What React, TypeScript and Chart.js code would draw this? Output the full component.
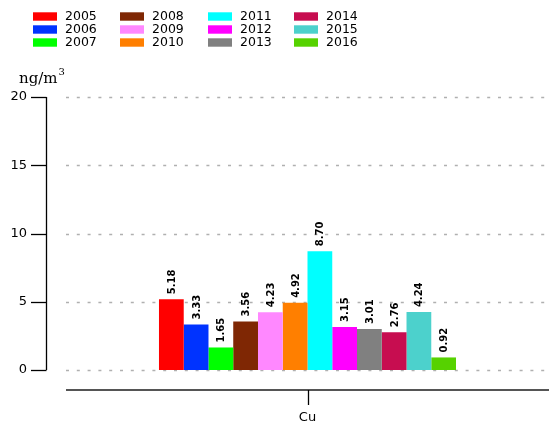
import React, { useEffect, useRef } from "react";
import { Chart, registerables } from "chart.js";

Chart.register(...registerables);

const categories = ["Cu"];
const years = ["2005", "2006", "2007", "2008", "2009", "2010", "2011", "2012", "2013", "2014", "2015", "2016"];
const values = [5.18, 3.33, 1.65, 3.56, 4.23, 4.92, 8.7, 3.15, 3.01, 2.76, 4.24, 0.92];
const colors = ["#ff0000", "#0033ff", "#00ff00", "#7f2704", "#ff88ff", "#ff7f00", "#00ffff", "#ff00ff", "#808080", "#c70d50", "#4cd1cc", "#56d200"];
const yTicks = [0, 5, 10, 15, 20];
const yLabel = "ng/m";
const yLabelSup = "3";

const SANS = "'DejaVu Sans', sans-serif";

const customPlugin = {
  id: "custom",
  beforeDatasetsDraw(chart: any) {
    const ctx = chart.ctx;
    const y = chart.scales.y;
    const area = chart.chartArea;
    ctx.save();
    ctx.strokeStyle = "#b0b0b0";
    ctx.lineWidth = 1.3;
    ctx.setLineDash([3, 7.8]);
    for (const t of yTicks) {
      const py = Math.round(y.getPixelForValue(t)) + 0.5;
      ctx.beginPath();
      ctx.moveTo(area.left, py);
      ctx.lineTo(area.right, py);
      ctx.stroke();
    }
    ctx.restore();
  },
  afterDatasetsDraw(chart: any) {
    const ctx = chart.ctx;
    ctx.save();
    ctx.fillStyle = "#000";
    ctx.font = `bold 10px ${SANS}`;
    ctx.textAlign = "left";
    ctx.textBaseline = "middle";
    chart.data.datasets.forEach((ds: any, i: number) => {
      const meta = chart.getDatasetMeta(i);
      const el = meta.data[0];
      if (!el) return;
      ctx.save();
      ctx.translate(el.x + 1, el.y - 5);
      ctx.rotate(-Math.PI / 2);
      ctx.fillText(values[i].toFixed(2), 0, 0);
      ctx.restore();
    });
    ctx.restore();
  },
  afterDraw(chart: any) {
    const ctx = chart.ctx;
    const y = chart.scales.y;
    const x = chart.scales.x;
    const area = chart.chartArea;
    ctx.save();
    // y spine
    const sx = 46.5;
    ctx.strokeStyle = "#000";
    ctx.lineWidth = 1.3;
    ctx.beginPath();
    ctx.moveTo(sx, y.getPixelForValue(20));
    ctx.lineTo(sx, y.getPixelForValue(0));
    ctx.stroke();
    for (const t of yTicks) {
      const py = Math.round(y.getPixelForValue(t)) + 0.5;
      ctx.beginPath();
      ctx.moveTo(31, py);
      ctx.lineTo(sx, py);
      ctx.stroke();
    }
    // x spine
    ctx.strokeStyle = "#555";
    ctx.lineWidth = 1.8;
    ctx.beginPath();
    ctx.moveTo(area.left, 390);
    ctx.lineTo(area.right, 390);
    ctx.stroke();
    ctx.strokeStyle = "#000";
    ctx.lineWidth = 1.3;
    const tx = Math.round(x.getPixelForValue(0)) + 0.5;
    ctx.beginPath();
    ctx.moveTo(tx, 390);
    ctx.lineTo(tx, 405);
    ctx.stroke();
    // y label
    ctx.fillStyle = "#000";
    ctx.textAlign = "left";
    ctx.textBaseline = "alphabetic";
    ctx.font = "15px 'DejaVu Serif', serif";
    ctx.fillText(yLabel, 19, 83);
    const w = ctx.measureText(yLabel).width;
    ctx.font = "10px 'DejaVu Serif', serif";
    ctx.fillText(yLabelSup, 19 + w + 1, 75);
    // legend
    const colX = [33, 120, 208, 294];
    const rowY = [16.5, 29.5, 42.5];
    ctx.font = `12.5px ${SANS}`;
    ctx.textBaseline = "middle";
    years.forEach((yr, i) => {
      const c = Math.floor(i / 3);
      const r = i % 3;
      const bx = colX[c];
      const by = rowY[r];
      ctx.fillStyle = colors[i];
      ctx.fillRect(bx, by - 4.2, 24, 8.4);
      ctx.fillStyle = "#000";
      ctx.fillText(yr, bx + 32, by + 0.5);
    });
    ctx.restore();
  },
};

export default function App() {
  const ref = useRef<HTMLCanvasElement | null>(null);
  useEffect(() => {
    document.body.style.margin = "0";
    const canvas = ref.current;
    if (!canvas) return;
    const chart = new Chart(canvas, {
      type: "bar",
      data: {
        labels: categories,
        datasets: years.map((yr, i) => ({
          label: yr,
          data: [values[i]],
          backgroundColor: colors[i],
          borderWidth: 0,
          categoryPercentage: 0.615,
          barPercentage: 1,
        })),
      },
      options: {
        responsive: false,
        animation: false,
        devicePixelRatio: 1,
        layout: { padding: { top: 97, left: 0, right: 0, bottom: 0 } },
        plugins: { legend: { display: false }, title: { display: false }, tooltip: { enabled: false } },
        scales: {
          x: {
            type: "category",
            offset: true,
            grid: { display: false, drawTicks: false },
            border: { display: false },
            ticks: { color: "#000", font: { family: SANS, size: 13 }, padding: 40 },
            afterFit: (s: any) => {
              s.height = 55;
            },
          },
          y: {
            min: 0,
            max: 20,
            grid: { display: false, drawTicks: false },
            border: { display: false },
            ticks: { stepSize: 5, color: "#000", font: { family: SANS, size: 13 }, padding: 39 },
            afterFit: (s: any) => {
              s.width = 66;
            },
          },
        },
      },
      plugins: [customPlugin],
    });
    return () => chart.destroy();
  }, []);
  return <canvas ref={ref} width={549} height={425} style={{ display: "block", width: 549, height: 425 }} />;
}
